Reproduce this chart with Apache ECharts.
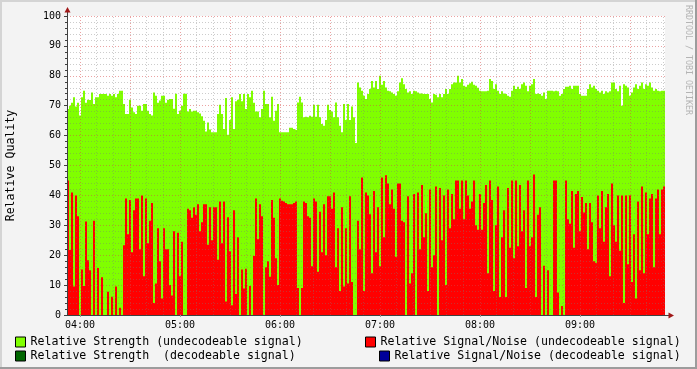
<!DOCTYPE html>
<html><head><meta charset="utf-8">
<script src="https://cdn.jsdelivr.net/npm/echarts@6/dist/echarts.min.js"></script>
<style>html,body{margin:0;padding:0;background:#f3f3f3}#c{width:697px;height:369px}</style>
</head><body><div id="c"></div>
<script>
// ---- data ----
const SERIES_NAMES = [
  'Relative Strength (undecodeable signal)',
  'Relative Signal/Noise (undecodeable signal)',
  'Relative Strength  (decodeable signal)',
  'Relative Signal/Noise (decodeable signal)'
];
const FIRST_SAMPLE = [2024, 0, 1, 3, 52, 12]; // y, m, d, h, min, s of first sample start
const STEP_SECONDS = 72;
const GRID_MINUTES = 10;      // minor vertical grid spacing
const MAJOR_GRID_MINUTES = 30; // major vertical grid spacing
const strengthUndecodeable = [
  68.9,70,71,72.8,69.7,71,66.7,72.8,75,71, 72,71.9,74.4,70.6,72.8,72.8,73.9,73.9,73.9,73.9,
  73.3,73.9,73.3,73.9,72.8,73.9,75,75,70.6,67.2, 67.2,72,69.4,67.8,67.2,70,70,68.3,70.6,70.6,
  68.3,67.2,66.7,74.4,73.3,71,71.7,73.3,73.3,71,
  72,72.2,72.2,69,74,67.2,68.3,70,74,74, 68.1,68.9,68.1,68.3,68.3,67.8,67.4,66.5,65,61.4,
  64.4,62,61.1,61.1,61.1,67.2,70.3,67.2,62.2,72.6, 60.3,65.2,72.8,62.2,71.5,72,73.9,71.5,73.9,68.9,
  73.9,72.8,75,71,68.1,68.1,66.1,68.9,75,70.6,
  70.6,66.1,73,65,68.3,70.6,61.1,61.1,61.1,61.1, 61.1,62.6,62.6,62.2,61.9,71.1,73,71.1,66.1,66.3,
  66.1,66.6,66.3,70.3,66.3,70.3,66.1,63.9,63.3,65.2, 70.3,68.6,68.1,66.1,71.1,66.1,63.3,61.1,70.6,65.2,
  70.6,65.2,69.7,66.1,57.5,77.8,76.1,75,73.3,72.2,
  73.9,75.6,78.3,76.1,78.3,75.6,80,77,78.3,76.1, 75,74.8,74.4,73.9,73.3,74.8,77.8,79.2,77.2,75.6,
  74.4,74.8,73.9,75,74.8,74.4,74.1,74.1,73.9,73.9, 73.9,72.2,71.1,73.9,73.7,72.8,73.9,72.8,73.9,75.6,
  73.9,75.6,77.2,77.8,77.8,80,77.8,78.9,76.7,76.3,
  77,77.5,78,77,76.7,76,75,74.8,74.8,74.8, 75,78.9,78.3,75.6,77.2,75,73.9,74.8,74.1,73.9,
  73.3,73,75,76.7,75.6,76.3,75.6,77.2,77.8,76.7, 74.8,76.7,77.2,78.9,73.9,74.1,73.9,73.3,74.4,72.2,
  75,75,75,74.8,75,74.8,73.3,73.9,75.6,76.3,
  76.3,76.7,75.6,76.7,76.7,76.7,73.9,73.3,73.3,73.3, 75.6,77.2,76.1,76.7,75.6,75,74.4,75,73.9,74.8,
  74.4,74.8,77.8,77.8,75.6,74.8,76.7,70,77.2,76.7, 76.1,73.3,74.4,76.1,77.2,75.6,76.7,77.8,75.6,77.2,
  76.7,77.8,76.1,75,75.6,75,74.8,75,75
];
const snrUndecodeable = [
  45,21.7,41,9.5,40,33,0,15.2,9.7,31.3, 18.3,15,0,31.5,0,15.7,0,12.6,0,0,
  7.8,0,6.1,0,9.5,0,2.4,0,23.3,39, 27,38.5,21,35,39,39,22,40,13,39,
  24,31.5,37.5,4,10.5,29,18,5.5,29,22,
  22,10,6.5,28,0,27.5,13,24.5,0,0, 35.5,35,32.5,36,33.5,37,28,31,37,37,
  23.5,36,25,36,36,18.5,38,24,38,4.5, 32.7,21.3,3.3,35,7,26,0,15.2,8.9,15.5,
  0,9.7,0,19.7,39,25.3,37,33,0,16,
  18,12.8,38.5,32.5,19,10,39,38.2,38,37.5, 37,37,37,37.5,38,9,0,9,38,37.5,
  33,32.5,16.3,39,38,14.5,34.5,21,37,20, 39.7,39.7,35.5,41,16,29,8,36,9.5,29,
  10.5,39.7,11,0,0,31.5,22,46,8,41,
  40,33.7,14,41.5,21,36,16.3,46,26,46.7, 44,37,42,35.5,19.5,44,44,31.5,31,0,
  39.7,10.5,14,40.5,0,41,22,43.5,26,34, 8,42,16,20,43,0,42.5,25,40,10,
  42,29,40.5,32,45,45,35.5,45,32,45,
  40,35.5,38,45,30,28.5,40.5,28.5,37.5,43.5, 14,45,38.5,8,30,43,6,26,35,6,
  42.5,22.5,45,19,45,23,43.5,28,35,9, 45,23,26,47,6,33.5,36,0,16.5,0,
  15,0,0,45,45,7.5,0,3,0,45,
  32,30.5,41.5,22.5,40.5,41.5,28,39.5,34.3,37.5, 22,37.5,31,18,17.5,40,29,41.5,24.5,36,
  40.5,13,44,30,24.5,40,21.5,40,4,40, 17,40,11,27,5.5,38,15,43,14,41,
  27,39,40.5,16,39,42,27,42,43
];
const strengthDecodeable = [];
const snrDecodeable = [];
const COLORS = ['#80ff00', '#ff0000', '#006600', '#000099'];

// ---- build ----
const FONT = '"DejaVu Sans Mono", monospace';
const pad2 = n => (n < 10 ? '0' : '') + n;
const t0 = new Date(...FIRST_SAMPLE).getTime();
const stepMs = STEP_SECONDS * 1000;
const xMin = t0, xMax = t0 + strengthUndecodeable.length * stepMs;
// one category per sample interval (start time of the sample)
const sampleTimes = strengthUndecodeable.map((_, i) => {
  const d = new Date(t0 + i * stepMs);
  return pad2(d.getHours()) + ':' + pad2(d.getMinutes()) + ':' + pad2(d.getSeconds());
});

const minorGrid = 'rgba(120,120,120,0.38)';
const majorGrid = 'rgba(215,70,70,0.5)';
const axisColor = '#404040';

// vertical grid times (clock aligned)
const dayStart = new Date(FIRST_SAMPLE[0], FIRST_SAMPLE[1], FIRST_SAMPLE[2]).getTime();
const gridLines = [];
for (let t = dayStart; t < xMax; t += GRID_MINUTES * 60000) {
  if (t <= xMin) continue;
  const m = Math.round((t - dayStart) / 60000);
  const major = m % MAJOR_GRID_MINUTES === 0;
  gridLines.push({xAxis: t, lineStyle: {color: major ? majorGrid : minorGrid, width: 1, type: [1, 2]}});
}

const chart = echarts.init(document.getElementById('c'), null, {renderer: 'canvas'});
const barBase = {type: 'bar', barCategoryGap: '0%', barGap: '-100%', xAxisIndex: 1, yAxisIndex: 0, animation: false};
const legendBase = {
  padding: 0, itemWidth: 10, itemHeight: 10, icon: 'rect', selectedMode: false,
  itemStyle: {borderColor: '#000', borderWidth: 1},
  textStyle: {fontFamily: FONT, fontSize: 11.6, color: '#000'}
};

chart.setOption({
  backgroundColor: '#f3f3f3',
  animation: false,
  color: COLORS,
  grid: {left: 67, top: 16, width: 598, height: 299, show: true, backgroundColor: '#ffffff', borderWidth: 0,
         containLabel: false, outerBoundsMode: 'none'},
  xAxis: [{
    type: 'time', min: xMin, max: xMax, position: 'bottom', z: 5,
    minInterval: 61 * 60000, maxInterval: 61 * 60000,
    axisLine: {show: true, lineStyle: {color: axisColor, width: 1}},
    axisTick: {show: true, length: 2, lineStyle: {color: '#999'}},
    splitLine: {show: false},
    axisLabel: {
      show: true, fontFamily: FONT, fontSize: 10, color: '#000', margin: 5, showMinLabel: false, showMaxLabel: false,
      formatter: v => { const d = new Date(v); return (d.getMinutes() === 0 && d.getSeconds() === 0) ? pad2(d.getHours()) + ':00' : ''; }
    }
  }, {
    type: 'category', data: sampleTimes, boundaryGap: true, position: 'bottom', show: false
  }],
  yAxis: {
    type: 'value', min: 0, max: 100, interval: 10, z: 5,
    axisLine: {show: true, lineStyle: {color: axisColor, width: 1}},
    axisTick: {show: true, length: 3, lineStyle: {color: axisColor}},
    minorTick: {show: true, splitNumber: 5, length: 2, lineStyle: {color: axisColor}},
    axisLabel: {fontFamily: FONT, fontSize: 10, color: '#000', margin: 6},
    splitLine: {show: true, lineStyle: {color: majorGrid, width: 1, type: [1, 2]}},
    minorSplitLine: {show: true, lineStyle: {color: minorGrid, width: 1, type: [1, 2]}},
    name: 'Relative Quality', nameLocation: 'middle', nameGap: 50, nameRotate: 90,
    nameTextStyle: {fontFamily: FONT, fontSize: 11.6, color: '#000'}
  },
  legend: [
    Object.assign({left: 15, top: 336, data: [SERIES_NAMES[0]]}, legendBase),
    Object.assign({left: 365, top: 336, data: [SERIES_NAMES[1]]}, legendBase),
    Object.assign({left: 15, top: 350, data: [SERIES_NAMES[2]]}, legendBase),
    Object.assign({left: 379, top: 350, data: [SERIES_NAMES[3]]}, legendBase)
  ],
  series: [
    Object.assign({name: SERIES_NAMES[0], data: strengthUndecodeable, itemStyle: {color: COLORS[0]}}, barBase),
    Object.assign({name: SERIES_NAMES[1], data: snrUndecodeable, itemStyle: {color: COLORS[1]}}, barBase),
    Object.assign({name: SERIES_NAMES[2], data: strengthDecodeable, itemStyle: {color: COLORS[2]}}, barBase),
    {name: SERIES_NAMES[3], type: 'line', xAxisIndex: 0, yAxisIndex: 0, data: snrDecodeable,
     itemStyle: {color: COLORS[3]}, lineStyle: {color: COLORS[3]}, animation: false, z: 6,
     markLine: {silent: true, symbol: ['none', 'none'], animation: false, label: {show: false}, z: 6, data: gridLines}}
  ],
  graphic: [
    {type: 'rect', shape: {x: 0, y: 0, width: 697, height: 2}, style: {fill: '#d4d4d4'}, silent: true},
    {type: 'rect', shape: {x: 0, y: 0, width: 2, height: 369}, style: {fill: '#d4d4d4'}, silent: true},
    {type: 'rect', shape: {x: 0, y: 367, width: 697, height: 2}, style: {fill: '#9c9c9c'}, silent: true},
    {type: 'rect', shape: {x: 695, y: 0, width: 2, height: 369}, style: {fill: '#9c9c9c'}, silent: true},
    {type: 'line', shape: {x1: 67.5, y1: 16, x2: 67.5, y2: 11}, style: {stroke: axisColor, lineWidth: 1}, z: 10, silent: true},
    {type: 'polygon', shape: {points: [[64.5, 12.5], [70.5, 12.5], [67.5, 7]]}, style: {fill: '#a01818'}, z: 10, silent: true},
    {type: 'line', shape: {x1: 665, y1: 315.5, x2: 669, y2: 315.5}, style: {stroke: axisColor, lineWidth: 1}, z: 10, silent: true},
    {type: 'polygon', shape: {points: [[668.5, 312.5], [668.5, 318.5], [674, 315.5]]}, style: {fill: '#a01818'}, z: 10, silent: true},
    {type: 'text', x: 688, y: 5, rotation: -Math.PI / 2, silent: true,
     style: {text: 'RRDTOOL / TOBI OETIKER', font: '8.3px ' + FONT, fill: '#b4b4b4', textAlign: 'left', textVerticalAlign: 'middle'}}
  ]
});
</script>
</body></html>
